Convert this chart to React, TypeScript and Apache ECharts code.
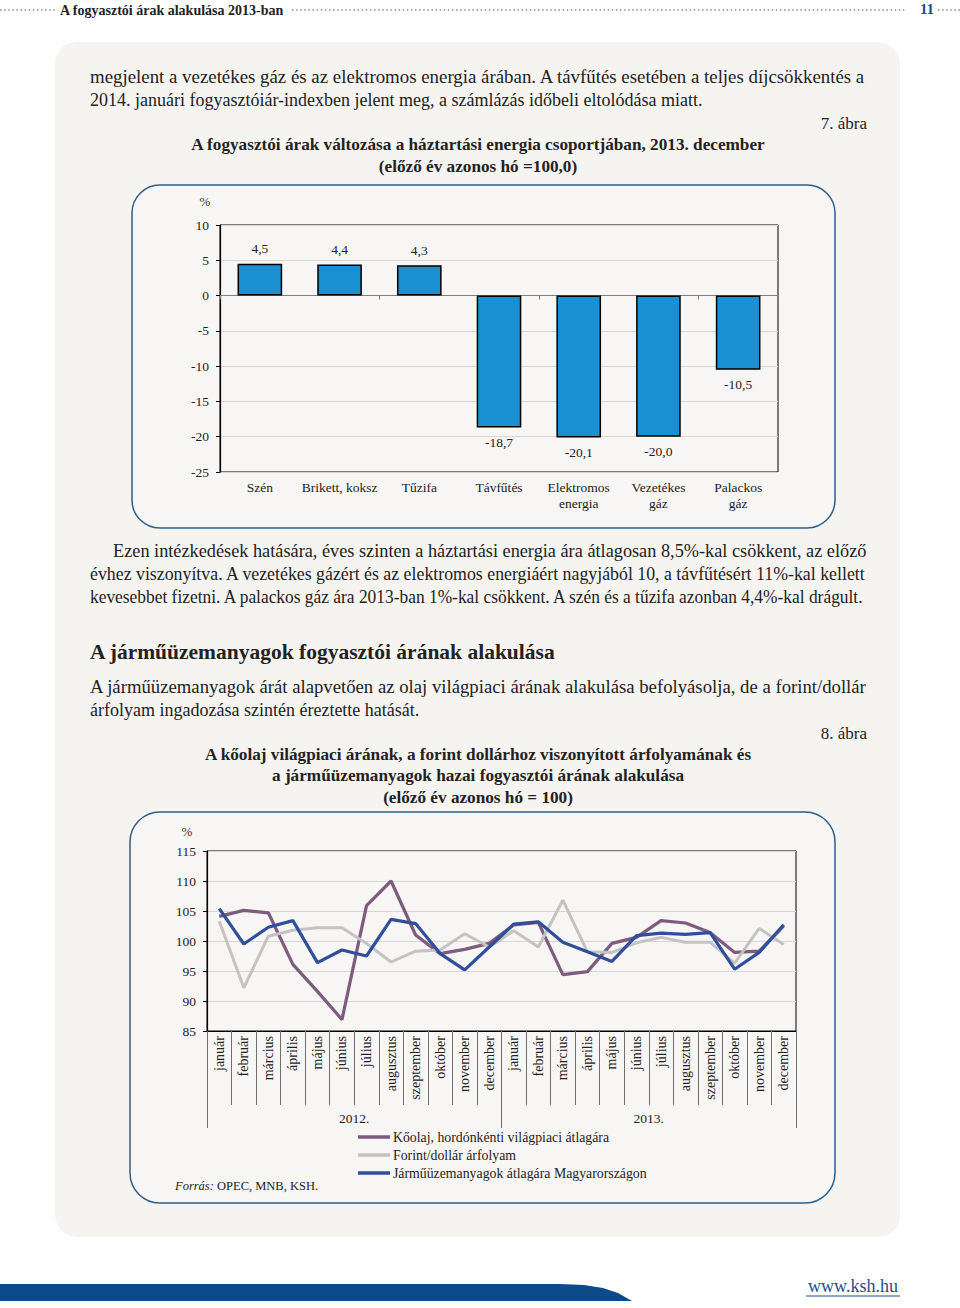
import React, { useEffect, useRef } from "react";
import * as echarts from "echarts";

// ---------- DATA ----------
const energyCats = ["Szén", "Brikett, koksz", "Tűzifa", "Távfűtés", "Elektromos\nenergia", "Vezetékes\ngáz", "Palackos\ngáz"];
const energyValues = [4.5, 4.4, 4.3, -18.7, -20.1, -20.0, -10.5];
const energyTicks = { min: -25, max: 10, interval: 5 };

const monthNames = ["január", "február", "március", "április", "május", "június", "július", "augusztus", "szeptember", "október", "november", "december"];
const monthCats = [...monthNames, ...monthNames];
const yearCats = ["2012.", "2013."];
const oilValues = [104.1, 105.1, 104.7, 96.1, 91.6, 86.9, 105.9, 110.0, 101.0, 97.9, 98.6, 99.6, 102.7, 103.1, 94.4, 94.9, 99.6, 100.6, 103.4, 103.0, 101.4, 98.1, 98.3, 102.5];
const fxValues = [103.3, 92.2, 100.8, 101.8, 102.2, 102.2, 99.6, 96.5, 98.3, 98.5, 101.2, 99.0, 101.7, 99.0, 106.8, 98.2, 98.1, 99.7, 100.6, 99.8, 99.8, 96.3, 102.1, 99.4];
const fuelValues = [105.4, 99.5, 102.3, 103.4, 96.4, 98.5, 97.5, 103.6, 102.9, 97.9, 95.2, 99.0, 102.8, 103.2, 99.8, 98.2, 96.6, 100.9, 101.3, 101.1, 101.4, 95.3, 98.1, 102.7];
const seriesNames = ["Kőolaj, hordónkénti világpiaci átlagára", "Forint/dollár árfolyam", "Járműüzemanyagok átlagára Magyarországon"];
const seriesColors = ["#7d5b7c", "#c3c3c3", "#2f4f9b"];
const fuelTicks = { min: 85, max: 115, interval: 5 };

const FONT_NAME = "Liberation Serif";
const FONT = `'${FONT_NAME}', serif`;
const INK = "#222222";
const BODY = 18;
const TITLE = 17.2;

let measureCtx: CanvasRenderingContext2D | null = null;
function measure(text: string, font: string) {
  if (!measureCtx) measureCtx = document.createElement("canvas").getContext("2d");
  if (!measureCtx) return 0;
  measureCtx.font = font;
  return measureCtx.measureText(text).width;
}

function fontStr(size: number, bold?: boolean, italic?: boolean) {
  return `${italic ? "italic " : ""}${bold ? "bold " : ""}${size}px ${FONT}`;
}

function txt(text: string, x: number, y: number, size: number, opts: any = {}) {
  return {
    type: "text",
    x,
    y,
    z: 20,
    style: {
      text,
      fill: opts.fill || INK,
      font: fontStr(size, opts.bold, opts.italic),
      textAlign: opts.align || "left",
      textVerticalAlign: "middle",
      ...(opts.rich ? { rich: opts.rich } : {}),
    },
  };
}

// justified line: stretched/condensed horizontally to span x0..x1
function jtxt(text: string, x0: number, x1: number, y: number, size: number) {
  const w = measure(text, fontStr(size));
  const el: any = txt(text, x0, y, size);
  if (w > 0) el.scaleX = (x1 - x0) / w;
  return el;
}

const fmt = (v: number) => v.toFixed(1).replace(".", ",");

export default function App() {
  const ref = useRef<HTMLDivElement>(null);
  useEffect(() => {
    if (!ref.current) return;
    const chart = echarts.init(ref.current, undefined, { renderer: "svg" });
    const dots = { stroke: "#8c8c8c", lineWidth: 1.6, lineDash: [1.5, 2.6] };

    const graphics: any[] = [
      // header leaders
      { type: "line", z: 1, shape: { x1: 0, y1: 10, x2: 55, y2: 10 }, style: dots },
      { type: "line", z: 1, shape: { x1: 292, y1: 10, x2: 905, y2: 10 }, style: dots },
      { type: "line", z: 1, shape: { x1: 938, y1: 10, x2: 960, y2: 10 }, style: dots },
      txt("A fogyasztói árak alakulása 2013-ban", 60, 10, 14, { bold: true }),
      txt("11", 927, 9, 15, { bold: true, align: "center", fill: "#1d4b8c" }),
      // panel
      { type: "rect", z: -10, shape: { x: 55, y: 42, width: 845, height: 1195, r: 22 }, style: { fill: "#f6f4f1" } },
      // chart boxes
      { type: "rect", z: -9, shape: { x: 132, y: 185, width: 703, height: 343, r: 28 }, style: { fill: "#f8f6f4", stroke: "#2c5f8b", lineWidth: 1.5 } },
      { type: "rect", z: -9, shape: { x: 130, y: 812, width: 705, height: 391, r: 30 }, style: { fill: "#f8f6f4", stroke: "#2c5f8b", lineWidth: 1.5 } },
      // text block 1
      jtxt("megjelent a vezetékes gáz és az elektromos energia árában. A távfűtés esetében a teljes díjcsökkentés a", 90, 867, 77, BODY),
      txt("2014. januári fogyasztóiár-indexben jelent meg, a számlázás időbeli eltolódása miatt.", 90, 100, BODY),
      txt("7. ábra", 867, 123, 17, { align: "right" }),
      txt("A fogyasztói árak változása a háztartási energia csoportjában, 2013. december", 478, 144, TITLE, { bold: true, align: "center" }),
      txt("(előző év azonos hó =100,0)", 478, 166, TITLE, { bold: true, align: "center" }),
      txt("%", 205, 201, 13, { align: "center", fill: "#333" }),
      // text block 2
      jtxt("Ezen intézkedések hatására, éves szinten a háztartási energia ára átlagosan 8,5%-kal csökkent, az előző", 113, 867, 551, BODY),
      jtxt("évhez viszonyítva. A vezetékes gázért és az elektromos energiáért nagyjából 10, a távfűtésért 11%-kal kellett", 90, 867, 574, BODY),
      jtxt("kevesebbet fizetni. A palackos gáz ára 2013-ban 1%-kal csökkent. A szén és a tűzifa azonban 4,4%-kal drágult.", 90, 867, 597, BODY),
      txt("A járműüzemanyagok fogyasztói árának alakulása", 90, 652, 21.5, { bold: true }),
      jtxt("A járműüzemanyagok árát alapvetően az olaj világpiaci árának alakulása befolyásolja, de a forint/dollár", 90, 867, 687, BODY),
      txt("árfolyam ingadozása szintén éreztette hatását.", 90, 710, BODY),
      txt("8. ábra", 867, 733, 17, { align: "right" }),
      txt("A kőolaj világpiaci árának, a forint dollárhoz viszonyított árfolyamának és", 478, 754, TITLE, { bold: true, align: "center" }),
      txt("a járműüzemanyagok hazai fogyasztói árának alakulása", 478, 775, TITLE, { bold: true, align: "center" }),
      txt("(előző év azonos hó = 100)", 478, 797, TITLE, { bold: true, align: "center" }),
      txt("%", 187, 831, 13, { align: "center", fill: "#333" }),
      txt("{i|Forrás:} OPEC, MNB, KSH.", 175, 1186, 12.5, { rich: { i: { fontStyle: "italic", fontSize: 12.5, fontFamily: FONT } } }),
      // footer
      {
        type: "polygon",
        z: 1,
        shape: { points: [[0, 1284], [560, 1284], [584, 1285], [603, 1288], [618, 1293], [632, 1301], [0, 1301]] },
        style: { fill: "#0d4a8a" },
      },
      txt("www.ksh.hu", 853, 1286, 18, { align: "center", fill: "#1f4e8c" }),
      { type: "line", z: 20, shape: { x1: 806, y1: 1296, x2: 900, y2: 1296 }, style: { stroke: "#1f4e8c", lineWidth: 1 } },
    ];

    const yAxisCommon = {
      type: "value",
      axisLine: { show: true, lineStyle: { color: "#000", width: 1.2 } },
      axisTick: { show: true, length: 4, lineStyle: { color: "#000" } },
      axisLabel: { margin: 11, fontSize: 13.5, color: INK, fontFamily: FONT },
      splitLine: { show: true, lineStyle: { color: "#d6d6d6", width: 1 } },
    };

    const lineSeries = [oilValues, fxValues, fuelValues].map((vals, i) => ({
      type: "line",
      name: seriesNames[i],
      xAxisIndex: 2,
      yAxisIndex: 1,
      data: vals,
      showSymbol: false,
      symbol: "none",
      lineStyle: { color: seriesColors[i], width: i === 1 ? 3 : 3.2 },
      itemStyle: { color: seriesColors[i] },
    }));

    const option: any = {
      animation: false,
      textStyle: { fontFamily: FONT },
      graphic: graphics,
      grid: [
        { left: 220, top: 225, width: 558, height: 247, show: true, borderColor: "#000", borderWidth: 1, backgroundColor: "transparent" },
        { left: 207, top: 851, width: 589, height: 180, show: true, borderColor: "#000", borderWidth: 1, backgroundColor: "transparent" },
      ],
      xAxis: [
        {
          gridIndex: 0,
          type: "category",
          data: energyCats,
          axisLine: { show: true, onZero: true, lineStyle: { color: "#7f7f7f", width: 1 } },
          axisTick: { show: true, length: 4, lineStyle: { color: "#7f7f7f" } },
          axisLabel: { show: false },
        },
        {
          gridIndex: 0,
          type: "category",
          position: "bottom",
          data: energyCats,
          axisLine: { show: false, onZero: false },
          axisTick: { show: false },
          axisLabel: { show: true, margin: 7, fontSize: 13.5, lineHeight: 16, color: INK, fontFamily: FONT, interval: 0 },
        },
        {
          gridIndex: 1,
          type: "category",
          position: "bottom",
          data: monthCats,
          axisLine: { show: true, onZero: false, lineStyle: { color: "#000", width: 1.2 } },
          axisTick: { show: true, length: 74, interval: 0, lineStyle: { color: "#6f6f6f" } },
          axisLabel: { show: true, rotate: 90, interval: 0, margin: 5, fontSize: 14, color: INK, fontFamily: FONT },
        },
        {
          gridIndex: 1,
          type: "category",
          position: "bottom",
          data: yearCats,
          axisLine: { show: false, onZero: false },
          axisTick: { show: true, length: 97, interval: 0, lineStyle: { color: "#6f6f6f" } },
          axisLabel: { show: true, margin: 80, fontSize: 13.5, color: INK, fontFamily: FONT },
        },
      ],
      yAxis: [
        { ...yAxisCommon, gridIndex: 0, min: energyTicks.min, max: energyTicks.max, interval: energyTicks.interval },
        { ...yAxisCommon, gridIndex: 1, min: fuelTicks.min, max: fuelTicks.max, interval: fuelTicks.interval },
      ],
      legend: {
        show: true,
        orient: "vertical",
        left: 358,
        top: 1130,
        itemWidth: 32,
        itemHeight: 3.5,
        itemGap: 4,
        icon: "rect",
        padding: 0,
        textStyle: { fontSize: 13.8, color: INK, fontFamily: FONT, padding: [0, 0, 0, -2] },
        data: seriesNames,
      },
      series: [
        {
          type: "bar",
          name: "energia",
          xAxisIndex: 0,
          yAxisIndex: 0,
          barWidth: "56%",
          data: energyValues.map((v) => ({ value: v, label: { position: v >= 0 ? "top" : "bottom" } })),
          itemStyle: { color: "#1a8fd1", borderColor: "#000", borderWidth: 1.5 },
          label: {
            show: true,
            distance: 8,
            fontSize: 13.5,
            color: INK,
            fontFamily: FONT,
            formatter: (p: any) => fmt(p.value),
          },
        },
        ...lineSeries,
      ],
    };
    chart.setOption(option);
    return () => chart.dispose();
  }, []);

  return <div ref={ref} style={{ position: "absolute", left: 0, top: 0, width: 960, height: 1308 }} />;
}
